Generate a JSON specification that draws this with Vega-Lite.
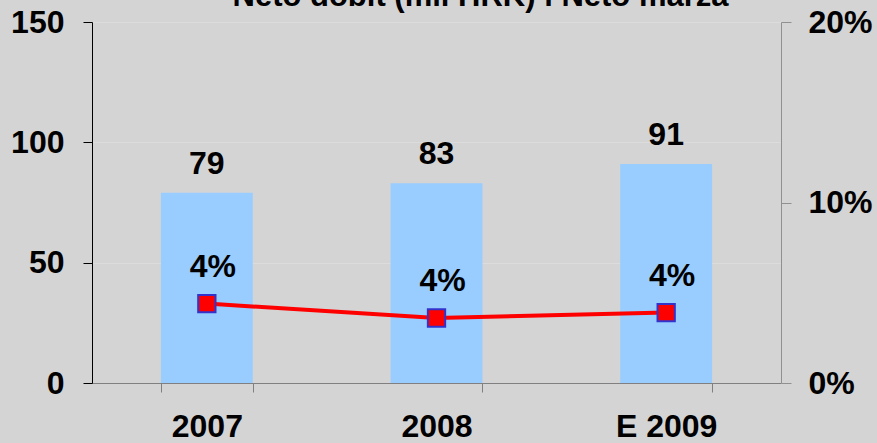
{
  "$schema": "https://vega.github.io/schema/vega-lite/v6.json",
  "width": 689,
  "height": 361,
  "autosize": "none",
  "padding": {"left": 92, "top": 22, "right": 96, "bottom": 60},
  "background": "#d4d4d4",
  "title": {"text": "Neto dobit (mil HRK) i Neto marža", "font": "Liberation Sans", "fontSize": 31, "fontWeight": "bold", "color": "#000000", "anchor": "middle", "dx": 44, "dy": 9, "offset": 2},
  "config": {"view": {"stroke": null}, "font": "Liberation Sans"},
  "data": {"values": [
    {"year": "2007", "profit": 79, "margin": 0.044},
    {"year": "2008", "profit": 83, "margin": 0.036},
    {"year": "E 2009", "profit": 91, "margin": 0.039}
  ]},
  "encoding": {
    "x": {"field": "year", "type": "nominal", "sort": null,
      "scale": {"paddingInner": 0.6, "paddingOuter": 0.3},
      "axis": {"title": null, "labelAngle": 0, "tickBand": "extent", "domainColor": "#808080", "tickColor": "#808080", "tickSize": 9, "labelPadding": 19, "labelFont": "Liberation Sans", "labelFontSize": 32, "labelFontWeight": "bold", "labelColor": "#000000", "grid": false}}
  },
  "layer": [
    {
      "encoding": {
        "y": {"field": "profit", "type": "quantitative", "scale": {"domain": [0, 150]},
          "axis": {"title": null, "orient": "left", "values": [0, 50, 100, 150], "grid": true, "gridColor": "#dcdcdc", "domainColor": "#000000", "tickColor": "#000000", "tickSize": 9, "labelPadding": 19, "labelFont": "Liberation Sans", "labelFontSize": 32, "labelFontWeight": "bold", "labelColor": "#000000"}}
      },
      "layer": [
        {"mark": {"type": "bar", "color": "#99ccff"}},
        {"mark": {"type": "text", "baseline": "bottom", "dy": -12, "font": "Liberation Sans", "fontSize": 32, "fontWeight": "bold", "color": "#000000"},
         "encoding": {"text": {"field": "profit", "type": "quantitative"}}}
      ]
    },
    {
      "encoding": {
        "y": {"field": "margin", "type": "quantitative", "scale": {"domain": [0, 0.2]},
          "axis": {"title": null, "orient": "right", "values": [0, 0.1, 0.2], "format": ".0%", "grid": false, "domainColor": "#909090", "tickColor": "#909090", "tickSize": 10, "labelPadding": 17, "labelFont": "Liberation Sans", "labelFontSize": 32, "labelFontWeight": "bold", "labelColor": "#000000"}}
      },
      "layer": [
        {"mark": {"type": "line", "color": "#ff0000", "strokeWidth": 4}},
        {"mark": {"type": "point", "shape": "square", "filled": true, "fill": "#ff0000", "stroke": "#3333cc", "strokeWidth": 2, "size": 300, "opacity": 1}},
        {"mark": {"type": "text", "baseline": "bottom", "dy": -20, "dx": 6, "font": "Liberation Sans", "fontSize": 32, "fontWeight": "bold", "color": "#000000"},
         "encoding": {"text": {"field": "margin", "type": "quantitative", "format": ".0%"}}}
      ]
    }
  ],
  "resolve": {"scale": {"y": "independent"}}
}
